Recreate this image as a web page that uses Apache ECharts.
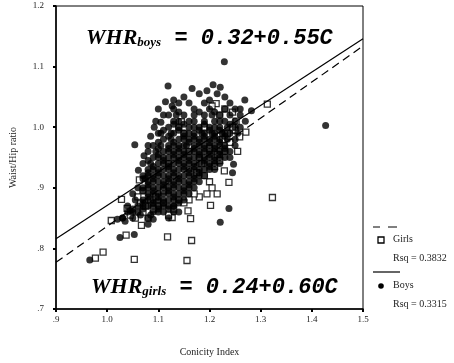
<!DOCTYPE html>
<html>
<head>
<meta charset="utf-8">
<script src="https://cdn.jsdelivr.net/npm/echarts@6/dist/echarts.min.js"></script>
<style>
  html, body { margin: 0; padding: 0; background: #fff; }
  #main { width: 454px; height: 363px; }
</style>
</head>
<body>
<div id="main"></div>
<script>
// tick labels
var xTicks = ['.9', '1.0', '1.1', '1.2', '1.3', '1.4', '1.5'];
var yTicks = ['.7', '.8', '.9', '1.0', '1.1', '1.2'];

// regression lines
var boysLine = [[0.9, 0.816], [1.5, 1.146]];
var girlsLine = [[0.9, 0.777], [1.5, 1.134]];

// boys (filled circles)
var boys = [
    // scattered ones
    [1.229, 1.108], [1.427, 1.003], [1.238, 0.866], [1.221, 0.843], [1.119, 1.068],
    [0.966, 0.781], [1.054, 0.971], [1.061, 0.929], [1.072, 0.953], [1.025, 0.818],
    [1.053, 0.823], [1.207, 1.070], [1.221, 1.066], [1.166, 1.064], [1.269, 1.045],
    [1.282, 1.027], [1.092, 1.000], [1.114, 1.042], [1.127, 1.035], [1.247, 0.939],
    [1.100, 1.030], [1.130, 1.045], [1.150, 1.050], [1.180, 1.055], [1.200, 1.045],
    [1.230, 1.050], [1.260, 1.030], [1.030, 0.850], [1.035, 0.845], [1.050, 0.860],
    [1.065, 0.855], [1.085, 0.855], [1.090, 0.848], [1.100, 0.860], [1.130, 0.870],
    [1.140, 0.860], [1.080, 0.970], [1.085, 0.985], [1.095, 1.010], [1.105, 0.990],
    [1.060, 0.900], [1.050, 0.890], [1.055, 0.880], [1.040, 0.870], [1.250, 0.970],
    [1.240, 0.950], [1.255, 0.990], [1.260, 1.000], [1.245, 0.925], [1.020, 0.848],
    [1.195, 1.060], [1.140, 1.040], [1.215, 1.055], [1.075, 0.915], [1.045, 0.862],
    [1.160, 1.040], [1.190, 1.040], [1.110, 1.020], [1.240, 1.040], [1.105, 1.008],
    // dense core
    [1.13, 1.03], [1.17, 1.03], [1.20, 1.03], [1.23, 1.03], [1.25, 1.03],
    [1.12, 1.02], [1.15, 1.02], [1.19, 1.02], [1.22, 1.02], [1.24, 1.02], [1.26, 1.02],
    [1.14, 1.01], [1.17, 1.01], [1.21, 1.01], [1.23, 1.01], [1.27, 1.01],
    [1.12, 1.00], [1.16, 1.00], [1.18, 1.00], [1.20, 1.00], [1.22, 1.00], [1.25, 1.00],
    [1.10, 0.99], [1.13, 0.99], [1.15, 0.99], [1.17, 0.99], [1.19, 0.99], [1.21, 0.99], [1.23, 0.99], [1.24, 0.99],
    [1.11, 0.98], [1.14, 0.98], [1.16, 0.98], [1.18, 0.98], [1.20, 0.98], [1.22, 0.98], [1.25, 0.98],
    [1.09, 0.97], [1.12, 0.97], [1.14, 0.97], [1.15, 0.97], [1.17, 0.97], [1.19, 0.97], [1.21, 0.97], [1.23, 0.97],
    [1.08, 0.96], [1.11, 0.96], [1.13, 0.96], [1.15, 0.96], [1.16, 0.96], [1.18, 0.96], [1.20, 0.96], [1.22, 0.96], [1.24, 0.96],
    [1.09, 0.95], [1.11, 0.95], [1.12, 0.95], [1.14, 0.95], [1.16, 0.95], [1.17, 0.95], [1.19, 0.95], [1.21, 0.95], [1.23, 0.95],
    [1.07, 0.94], [1.10, 0.94], [1.12, 0.94], [1.13, 0.94], [1.15, 0.94], [1.17, 0.94], [1.18, 0.94], [1.20, 0.94], [1.22, 0.94],
    [1.08, 0.93], [1.10, 0.93], [1.11, 0.93], [1.13, 0.93], [1.14, 0.93], [1.16, 0.93], [1.18, 0.93], [1.19, 0.93], [1.21, 0.93],
    [1.07, 0.92], [1.09, 0.92], [1.11, 0.92], [1.12, 0.92], [1.14, 0.92], [1.15, 0.92], [1.17, 0.92], [1.19, 0.92],
    [1.08, 0.91], [1.10, 0.91], [1.11, 0.91], [1.13, 0.91], [1.15, 0.91], [1.16, 0.91], [1.18, 0.91],
    [1.07, 0.90], [1.09, 0.90], [1.10, 0.90], [1.12, 0.90], [1.14, 0.90], [1.15, 0.90], [1.17, 0.90],
    [1.08, 0.89], [1.10, 0.89], [1.11, 0.89], [1.13, 0.89], [1.14, 0.89], [1.16, 0.89],
    [1.07, 0.88], [1.09, 0.88], [1.11, 0.88], [1.12, 0.88], [1.14, 0.88], [1.15, 0.88],
    [1.06, 0.87], [1.08, 0.87], [1.10, 0.87], [1.12, 0.87], [1.13, 0.87],
    [1.04, 0.86], [1.06, 0.86], [1.09, 0.86], [1.11, 0.86], [1.13, 0.86],
    [1.03, 0.85], [1.05, 0.85], [1.08, 0.85], [1.12, 0.85], [1.08, 0.84],
    [1.14, 1.025], [1.18, 1.025], [1.21, 1.025],
    [1.13, 1.005], [1.15, 1.005], [1.19, 1.005], [1.24, 1.005],
    [1.11, 0.995], [1.14, 0.995], [1.18, 0.995], [1.20, 0.995], [1.22, 0.995],
    [1.12, 0.985], [1.15, 0.985], [1.17, 0.985], [1.19, 0.985], [1.21, 0.985], [1.23, 0.985],
    [1.10, 0.975], [1.13, 0.975], [1.16, 0.975], [1.18, 0.975], [1.20, 0.975], [1.22, 0.975],
    [1.10, 0.965], [1.12, 0.965], [1.14, 0.965], [1.17, 0.965], [1.19, 0.965], [1.21, 0.965], [1.23, 0.965],
    [1.10, 0.955], [1.13, 0.955], [1.15, 0.955], [1.18, 0.955], [1.20, 0.955], [1.22, 0.955],
    [1.08, 0.945], [1.11, 0.945], [1.14, 0.945], [1.16, 0.945], [1.19, 0.945], [1.21, 0.945],
    [1.09, 0.935], [1.12, 0.935], [1.15, 0.935], [1.17, 0.935], [1.20, 0.935],
    [1.08, 0.925], [1.10, 0.925], [1.13, 0.925], [1.16, 0.925], [1.18, 0.925],
    [1.07, 0.915], [1.09, 0.915], [1.12, 0.915], [1.14, 0.915], [1.17, 0.915],
    [1.08, 0.905], [1.11, 0.905], [1.13, 0.905], [1.16, 0.905],
    [1.07, 0.895], [1.09, 0.895], [1.12, 0.895], [1.15, 0.895],
    [1.08, 0.885], [1.10, 0.885], [1.13, 0.885],
    [1.07, 0.875], [1.09, 0.875], [1.11, 0.875], [1.14, 0.875],
    [1.05, 0.865], [1.07, 0.865], [1.10, 0.865], [1.12, 0.865],
    // second stagger layer in the core
    [1.135, 1.02], [1.17, 1.02], [1.205, 1.02],
    [1.13, 1.01], [1.16, 1.01], [1.19, 1.01], [1.22, 1.01], [1.25, 1.01],
    [1.14, 1.00], [1.17, 1.00], [1.21, 1.00], [1.235, 1.00],
    [1.125, 0.99], [1.16, 0.99], [1.185, 0.99], [1.205, 0.99], [1.225, 0.99],
    [1.125, 0.98], [1.15, 0.98], [1.17, 0.98], [1.19, 0.98], [1.21, 0.98], [1.235, 0.98],
    [1.105, 0.97], [1.13, 0.97], [1.155, 0.97], [1.18, 0.97], [1.20, 0.97], [1.22, 0.97],
    [1.095, 0.96], [1.12, 0.96], [1.14, 0.96], [1.17, 0.96], [1.19, 0.96], [1.21, 0.96], [1.23, 0.96],
    [1.10, 0.95], [1.13, 0.95], [1.15, 0.95], [1.18, 0.95], [1.20, 0.95], [1.22, 0.95],
    [1.085, 0.94], [1.11, 0.94], [1.14, 0.94], [1.16, 0.94], [1.19, 0.94], [1.21, 0.94],
    [1.09, 0.93], [1.12, 0.93], [1.15, 0.93], [1.17, 0.93], [1.20, 0.93],
    [1.08, 0.92], [1.10, 0.92], [1.13, 0.92], [1.16, 0.92], [1.18, 0.92],
    [1.09, 0.91], [1.12, 0.91], [1.14, 0.91], [1.17, 0.91],
    [1.08, 0.90], [1.11, 0.90], [1.13, 0.90], [1.16, 0.90],
    [1.09, 0.89], [1.12, 0.89], [1.15, 0.89],
    [1.08, 0.88], [1.10, 0.88], [1.13, 0.88],
    [1.07, 0.87], [1.09, 0.87], [1.11, 0.87]
];

// girls (hollow squares)
var girls = [
    [1.313, 1.038], [1.323, 0.884], [1.156, 0.780], [1.053, 0.782], [0.977, 0.784],
    [0.992, 0.794], [1.037, 0.822], [1.118, 0.819], [1.165, 0.813], [1.163, 0.849],
    [1.158, 0.862], [1.008, 0.846], [1.067, 0.838], [1.028, 0.881], [1.039, 0.866],
    [1.202, 0.871], [1.238, 0.909], [1.063, 0.913], [1.271, 0.992], [1.259, 0.984],
    [1.252, 1.010], [1.213, 1.039], [1.229, 0.928], [1.200, 0.910], [1.127, 0.851],
    [1.145, 1.009], [1.210, 0.935], [1.220, 0.945], [1.190, 0.920], [1.205, 0.900],
    [1.180, 0.885], [1.170, 0.890], [1.195, 0.890], [1.215, 0.890], [1.160, 0.880],
    [1.150, 0.875], [1.140, 0.880], [1.120, 0.855], [1.100, 0.870], [1.090, 0.865],
    [1.080, 0.850], [1.070, 0.860], [1.055, 0.850], [1.045, 0.855], [1.065, 0.875],
    [1.075, 0.870], [1.085, 0.880], [1.095, 0.885], [1.110, 0.895], [1.230, 0.960],
    [1.240, 0.975], [1.250, 0.995], [1.245, 1.000], [1.235, 0.990], [1.225, 0.980],
    [1.245, 1.025], [1.230, 1.030], [1.220, 1.020], [1.205, 1.035], [1.190, 1.000],
    [1.150, 0.990], [1.140, 1.000], [1.160, 0.960], [1.180, 0.950], [1.120, 0.940],
    [1.200, 0.965], [1.215, 0.955], [1.175, 0.925], [1.185, 0.940], [1.070, 0.895],
    [1.060, 0.885], [1.255, 0.960], [1.110, 0.875], [1.130, 0.865]
];

var chart = echarts.init(document.getElementById('main'));

var serif = 'Liberation Serif';
var mono = 'Liberation Mono';

function eqText(sub, rest) {
    return {
        type: 'text',
        style: {
            text: '{w|WHR}{s|' + sub + '}{e| = ' + rest + '}',
            rich: {
                w: { fontFamily: serif, fontWeight: 'bold', fontStyle: 'italic', fontSize: 22, fill: '#000' },
                s: { fontFamily: serif, fontWeight: 'bold', fontStyle: 'italic', fontSize: 13, fill: '#000', padding: [9, 0, 0, 0] },
                e: { fontFamily: mono, fontWeight: 'bold', fontStyle: 'italic', fontSize: 22, fill: '#000' }
            },
            verticalAlign: 'middle'
        }
    };
}

var boysEq = eqText('boys', '0.32+0.55C');
boysEq.left = 86; boysEq.top = 27;
var girlsEq = eqText('girls', '0.24+0.60C');
girlsEq.left = 91; girlsEq.top = 276;

var legendFont = { fontFamily: serif, fontSize: 10, fill: '#222' };

var option = {
    backgroundColor: '#fff',
    animation: false,
    grid: {
        left: 54, right: 91, top: 6, bottom: 54,
        show: true, borderColor: '#000', borderWidth: 1
    },
    xAxis: {
        type: 'value',
        min: 0.9, max: 1.5, interval: 0.1,
        name: 'Conicity Index',
        nameLocation: 'middle',
        nameGap: 38,
        nameTextStyle: { fontFamily: serif, fontSize: 10, color: '#222' },
        axisLine: { lineStyle: { color: '#000', width: 1.5 } },
        axisTick: { show: true, length: 3, lineStyle: { color: '#000', width: 2 } },
        axisLabel: {
            fontFamily: serif, fontSize: 9, color: '#222', margin: 6,
            formatter: function (v) { return xTicks[Math.round((v - 0.9) * 10)]; }
        },
        splitLine: { show: false }
    },
    yAxis: {
        type: 'value',
        min: 0.7, max: 1.2, interval: 0.1,
        name: 'Waist/Hip ratio',
        nameLocation: 'middle',
        nameGap: 38,
        nameTextStyle: { fontFamily: serif, fontSize: 10, color: '#222' },
        axisLine: { lineStyle: { color: '#000', width: 1.5 } },
        axisTick: { show: true, length: 3, lineStyle: { color: '#000', width: 2 } },
        axisLabel: {
            fontFamily: serif, fontSize: 9, color: '#222', margin: 12,
            formatter: function (v) { return yTicks[Math.round((v - 0.7) * 10)]; }
        },
        splitLine: { show: false }
    },
    series: [
        {
            name: 'Girls',
            type: 'scatter',
            data: girls,
            symbol: 'rect',
            symbolSize: 6,
            z: 2,
            itemStyle: { color: '#fff', borderColor: '#000', borderWidth: 1.3 }
        },
        {
            name: 'Boys',
            type: 'scatter',
            data: boys,
            symbol: 'circle',
            symbolSize: 7,
            z: 3,
            itemStyle: { color: '#000' }
        },
        {
            name: 'Girls fit',
            type: 'line',
            data: girlsLine,
            symbol: 'none',
            z: 4,
            lineStyle: { color: '#000', width: 1.2, type: [8, 5] }
        },
        {
            name: 'Boys fit',
            type: 'line',
            data: boysLine,
            symbol: 'none',
            z: 4,
            lineStyle: { color: '#000', width: 1.2 }
        }
    ],
    graphic: [
        boysEq,
        girlsEq,
        // legend
        { type: 'line', shape: { x1: 373, y1: 227, x2: 380, y2: 227 }, style: { stroke: '#000', lineWidth: 1 } },
        { type: 'line', shape: { x1: 388, y1: 227, x2: 397, y2: 227 }, style: { stroke: '#000', lineWidth: 1 } },
        { type: 'rect', shape: { x: 378, y: 237, width: 6, height: 6 }, style: { fill: '#fff', stroke: '#000', lineWidth: 1.3 } },
        { type: 'text', left: 393, top: 234, style: Object.assign({ text: 'Girls' }, legendFont) },
        { type: 'text', left: 393, top: 253, style: Object.assign({ text: 'Rsq = 0.3832' }, legendFont) },
        { type: 'line', shape: { x1: 373, y1: 272, x2: 400, y2: 272 }, style: { stroke: '#000', lineWidth: 1.2 } },
        { type: 'circle', shape: { cx: 381, cy: 286, r: 2.8 }, style: { fill: '#000' } },
        { type: 'text', left: 393, top: 280, style: Object.assign({ text: 'Boys' }, legendFont) },
        { type: 'text', left: 393, top: 299, style: Object.assign({ text: 'Rsq = 0.3315' }, legendFont) }
    ]
};

chart.setOption(option);
</script>
</body>
</html>
